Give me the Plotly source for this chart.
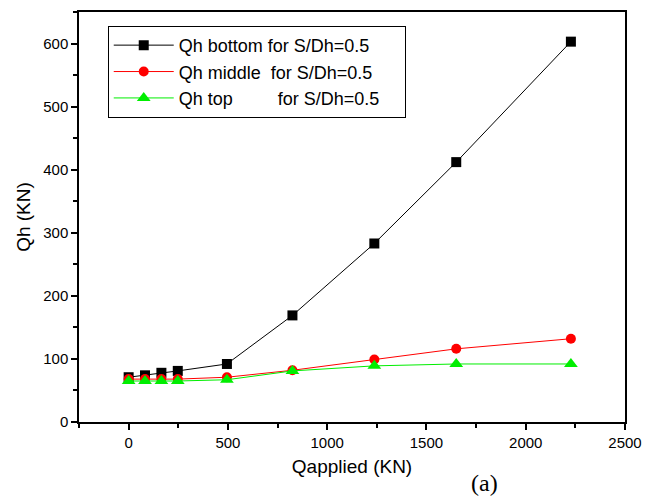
import plotly.graph_objects as go

x_applied = [0, 82.5, 165, 247.5, 495, 825, 1237.5, 1650, 2227.5]
qh_bottom = [71, 74, 78, 81, 92, 169, 283, 412, 603]
qh_middle = [68, 68, 68, 68, 71, 82, 99, 116, 132]
qh_top = [65, 65, 65, 65, 67, 81, 89, 92, 92]

pad = "\u00a0" * 4
names = ["Qh bottom for S/Dh=0.5" + pad,
         "Qh middle\u00a0 for S/Dh=0.5" + pad,
         "Qh top\u00a0\u00a0\u00a0\u00a0\u00a0\u00a0\u00a0\u00a0 for S/Dh=0.5" + pad]

fig = go.Figure()
fig.add_trace(go.Scatter(x=x_applied, y=qh_bottom, name=names[0], mode="lines+markers",
                         line=dict(color="black", width=1),
                         marker=dict(symbol="square", size=10, color="black")))
fig.add_trace(go.Scatter(x=x_applied, y=qh_middle, name=names[1], mode="lines+markers",
                         line=dict(color="red", width=1),
                         marker=dict(symbol="circle", size=10, color="red")))
fig.add_trace(go.Scatter(x=x_applied, y=qh_top, name=names[2], mode="lines+markers",
                         line=dict(color="#00ee00", width=1),
                         marker=dict(symbol="triangle-up", size=12, color="#00ee00")))

font_fam = "Arial, Liberation Sans"
axis_common = dict(showline=True, linecolor="black", linewidth=1.5, mirror=True,
                   ticks="outside", ticklen=6, tickcolor="black", tickwidth=1.5,
                   showgrid=False, zeroline=False,
                   tickfont=dict(family=font_fam, size=15, color="black"))

fig.update_xaxes(range=[-250, 2500], dtick=500, tick0=0,
                 minor=dict(ticks="outside", dtick=250, ticklen=4, tickcolor="black", tickwidth=1.5),
                 title=dict(text="Qapplied (KN)", font=dict(family=font_fam, size=19, color="black"), standoff=10),
                 **axis_common)
fig.update_yaxes(range=[0, 650], dtick=100, tick0=0,
                 minor=dict(ticks="outside", dtick=50, ticklen=4, tickcolor="black", tickwidth=1.5),
                 title=dict(text="Qh (KN)", font=dict(family=font_fam, size=19, color="black"), standoff=8),
                 **axis_common)

fig.add_annotation(text="(a)", xref="paper", yref="paper", x=(488-79)/551, y=-(483-422)/412,
                   showarrow=False, font=dict(family="Liberation Serif, Times New Roman", size=24, color="black"),
                   xanchor="center", yanchor="middle")

fig.update_layout(
    width=652, height=498,
    margin=dict(l=79, r=22, t=10, b=76),
    paper_bgcolor="white", plot_bgcolor="white",
    showlegend=True,
    legend=dict(x=(108-79)/551, y=1-(24-10)/412, xanchor="left", yanchor="top",
                bordercolor="black", borderwidth=1, bgcolor="white",
                font=dict(family=font_fam, size=18, color="black"),
                tracegroupgap=0, itemwidth=60),
)

fig.write_html("out.html")
